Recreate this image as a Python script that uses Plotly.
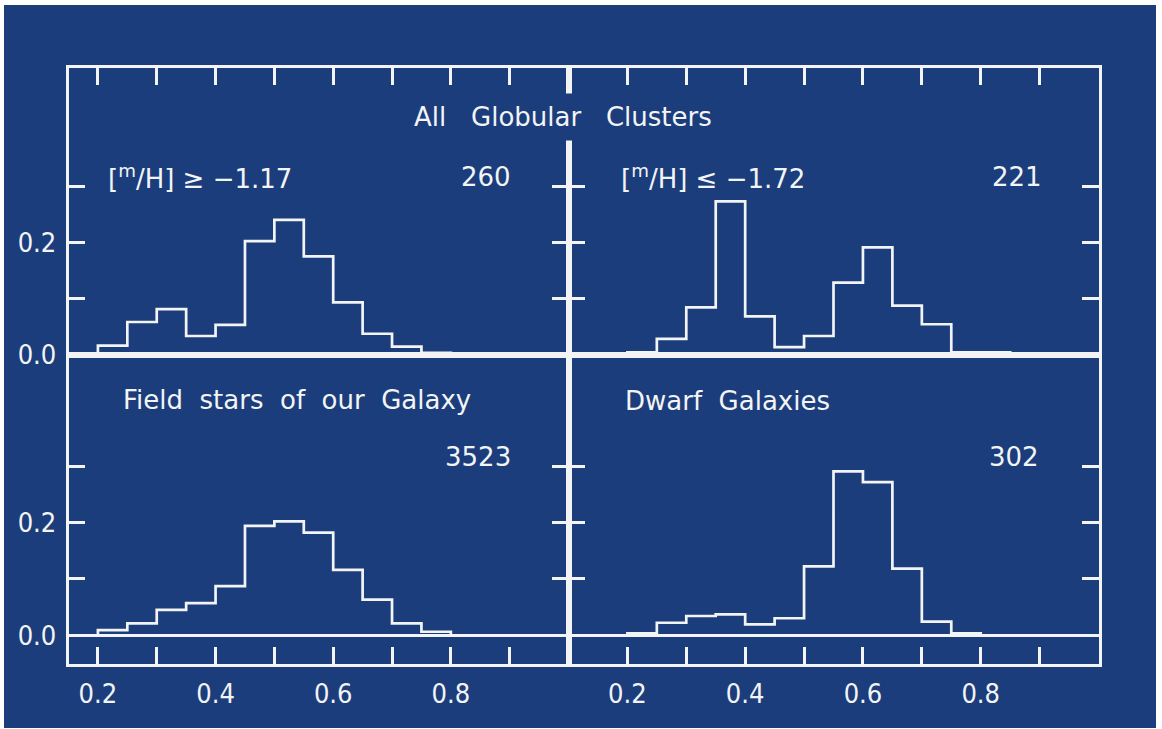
import plotly.graph_objects as go

# ---------------- data ----------------
bin_edges = [0.20, 0.25, 0.30, 0.35, 0.40, 0.45, 0.50, 0.55, 0.60, 0.65, 0.70, 0.75, 0.80, 0.85]

metal_rich_gc = [0.016, 0.058, 0.081, 0.033, 0.053, 0.202, 0.240, 0.175, 0.093, 0.037, 0.014, 0.003]
metal_poor_gc = [0.004, 0.028, 0.084, 0.273, 0.068, 0.013, 0.033, 0.128, 0.191, 0.087, 0.054, 0.004, 0.004]
field_stars   = [0.009, 0.021, 0.045, 0.057, 0.087, 0.194, 0.202, 0.182, 0.116, 0.063, 0.021, 0.006]
dwarf_gal     = [0.003, 0.022, 0.034, 0.037, 0.019, 0.030, 0.122, 0.291, 0.272, 0.118, 0.024, 0.003]

counts = ["260", "221", "3523", "302"]
x_major = [0.2, 0.4, 0.6, 0.8]
x_major_text = ["0.2", "0.4", "0.6", "0.8"]
x_minor = [0.3, 0.5, 0.7, 0.9]
y_major = [0.0, 0.2]
y_major_text = ["0.0", "0.2"]
y_minor = [0.1, 0.3]

# ---------------- layout geometry ----------------
W, H = 1162, 729          # target picture size (positions below are in these pixels)
FIG_H = 743               # page height used so the photographed page maps to 729 rows
BLUE = "#1c3d7b"
WHITE = "#f2f4f6"
LW = 2.7


def px(x):
    return x / W


def py(y):
    return 1 - y / H


def step_path(edges, vals):
    xs, ys = [edges[0]], [0.0]
    for i, v in enumerate(vals):
        xs += [edges[i], edges[i + 1]]
        ys += [v, v]
    xs.append(edges[len(vals)])
    ys.append(0.0)
    return xs, ys


fig = go.Figure()

series = [metal_rich_gc, metal_poor_gc, field_stars, dwarf_gal]
axes = [("x", "y"), ("x2", "y2"), ("x3", "y3"), ("x4", "y4")]
for vals, (xa, ya) in zip(series, axes):
    xs, ys = step_path(bin_edges, vals)
    fig.add_trace(go.Scatter(x=xs, y=ys, mode="lines", xaxis=xa, yaxis=ya,
                             line=dict(color=WHITE, width=LW), showlegend=False,
                             hoverinfo="skip"))

xL = [px(68.5), px(568.5)]
xR = [px(568.5), px(1098.5)]
yT = [py(355), py(68)]
yB = [py(665), py(355)]

tick_font = dict(family="Liberation Sans Narrow, DejaVu Sans Condensed, Roboto", size=27, color=WHITE)
minor_x = dict(tickvals=x_minor, ticks="inside", ticklen=17, tickwidth=LW, tickcolor=WHITE, showgrid=False)
minor_y = dict(tickvals=y_minor, ticks="inside", ticklen=17, tickwidth=LW, tickcolor=WHITE, showgrid=False)

common_x = dict(showgrid=False, zeroline=False, showline=True, linecolor=WHITE, linewidth=LW,
                ticks="inside", ticklen=17, tickwidth=LW, tickcolor=WHITE,
                tickvals=x_major, ticktext=x_major_text, tickfont=tick_font,
                minor=minor_x, fixedrange=True)
common_y = dict(showgrid=False, zeroline=True, zerolinecolor=WHITE, zerolinewidth=LW,
                showline=True, linecolor=WHITE, linewidth=LW,
                ticks="inside", ticklen=17, tickwidth=LW, tickcolor=WHITE,
                tickvals=y_major, ticktext=y_major_text, tickfont=tick_font,
                minor=minor_y, mirror="ticks", fixedrange=True)

top_range = [0.0, 0.511]
bot_range = [-0.0515, 0.4987]

fig.update_layout(
    width=W, height=FIG_H, autosize=False,
    margin=dict(l=0, r=0, t=0, b=0),
    paper_bgcolor="white", plot_bgcolor="rgba(0,0,0,0)",
    xaxis=dict(common_x, domain=xL, range=[0.15, 1.0], anchor="y", side="top",
               mirror=True, showticklabels=False),
    yaxis=dict(common_y, domain=yT, range=top_range, anchor="x", ticklabelstandoff=4),
    xaxis2=dict(common_x, domain=xR, range=[0.1, 1.0], anchor="y2", side="top",
                mirror=True, showticklabels=False),
    yaxis2=dict(common_y, domain=yT, range=top_range, anchor="x2", showticklabels=False),
    xaxis3=dict(common_x, domain=xL, range=[0.15, 1.0], anchor="y3", mirror=True,
                ticklabelstandoff=4),
    yaxis3=dict(common_y, domain=yB, range=bot_range, anchor="x3", ticklabelstandoff=4),
    xaxis4=dict(common_x, domain=xR, range=[0.1, 1.0], anchor="y4", mirror=True,
                ticklabelstandoff=4),
    yaxis4=dict(common_y, domain=yB, range=bot_range, anchor="x4", showticklabels=False),
)

# blue photographic background
fig.add_shape(type="rect", xref="paper", yref="paper", x0=px(4), x1=px(1156), y0=0, y1=py(5),
              fillcolor=BLUE, line=dict(width=0), layer="below")

txt_font = dict(family="DejaVu Sans", size=26, color=WHITE)
num_font = dict(family="DejaVu Sans", size=26, color=WHITE)


def label(text, x, y, anchor="left", font=txt_font, **kw):
    fig.add_annotation(text=text, x=px(x), y=py(y), xref="paper", yref="paper",
                       xanchor=anchor, yanchor="middle", showarrow=False, font=font, **kw)


label("All   Globular   Clusters", 563, 117, anchor="center", bgcolor=BLUE, borderpad=8)
label("[<sup>m</sup>/H] ≥ −1.17", 106, 177)
label(counts[0], 513, 177, anchor="right", font=num_font)
label("[<sup>m</sup>/H] ≤ −1.72", 619, 177)
label(counts[1], 1044, 177, anchor="right", font=num_font)
label("Field  stars  of  our  Galaxy", 121, 401)
label(counts[2], 513, 458, anchor="right", font=num_font)
label("Dwarf  Galaxies", 623, 402)
label(counts[3], 1041, 458, anchor="right", font=num_font)

page_css = (
    "var s=document.createElement('style');"
    "s.textContent='html,body{margin:0;padding:0;overflow:hidden;}';"
    "document.head.appendChild(s);"
)
fig.write_html("out.html",
               config={"responsive": False, "displayModeBar": False},
               post_script=page_css)
